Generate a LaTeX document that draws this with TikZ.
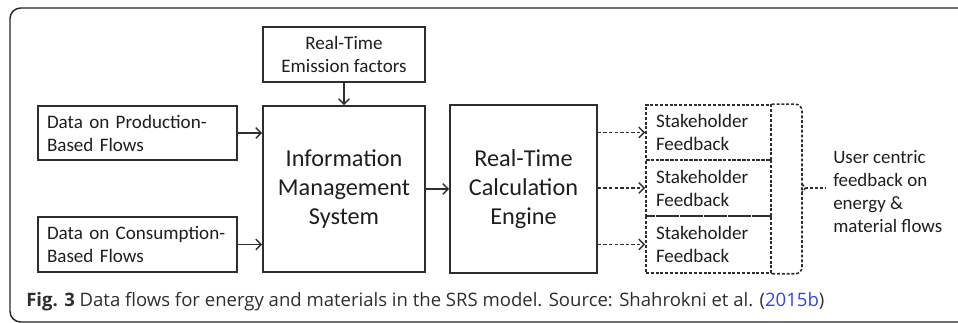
\documentclass[tikz,border=0pt]{standalone}
\usepackage{fontspec}
\setmainfont{Carlito}
\newfontfamily\capfont{Open Sans}
\usetikzlibrary{arrows.meta}
\definecolor{ln}{HTML}{2E2E2E}
\definecolor{tx}{HTML}{1E1E1E}
\definecolor{captx}{HTML}{2E2E2E}
\definecolor{linkblue}{HTML}{3344EE}
\begin{document}
\begin{tikzpicture}[x=0.75pt,y=-0.75pt,
  box/.style={draw=ln, line width=1.2pt, inner sep=0pt, text=tx},
  smalltxt/.style={font=\fontsize{14.3}{17.3}\selectfont},
  bigtxt/.style={font=\fontsize{18.2}{21.8}\selectfont},
  leftbox/.style={box, smalltxt, align=left, inner xsep=6.75pt, text width=135.75pt},
  shbox/.style={box, smalltxt, dash pattern=on 2.2pt off 1.4pt, align=left, inner xsep=7.5pt, text width=78.75pt},
  arr/.style={draw=ln, line width=1.1pt, -{Straight Barb[length=4pt,width=8pt,line width=1.1pt]}},
  darr/.style={arr, dash pattern=on 2.6pt off 1.6pt},
  dsh/.style={draw=ln, line width=1.2pt, dash pattern=on 2.2pt off 1.4pt}]
\useasboundingbox (0,0) rectangle (958,323);
\begin{scope}
\clip (0,0) rectangle (958,323);
\draw[draw=black!85, line width=1.1pt, rounded corners=8pt] (10,8) rectangle (990,322);
\end{scope}

\node[box, smalltxt, align=center, minimum width=121.5pt, minimum height=41.25pt] (emis) at (344,54.5) {Real-Time\\Emission factors};
\node[leftbox, minimum height=40.5pt] (prod) at (137.5,133) {Data on Production-\\Based Flows};
\node[leftbox, minimum height=41.25pt] (cons) at (137.5,244.5) {Data on Consumption-\\Based Flows};
\node[box, bigtxt, align=center, minimum width=121.5pt, minimum height=124.5pt] (ims) at (344,189) {Information\\Management\\System};
\node[box, bigtxt, align=center, minimum width=110.25pt, minimum height=126pt] (rtce) at (523.5,189) {Real-Time\\Calculation\\Engine};
\node[shbox, minimum height=41.25pt] (sh1) at (708.5,132.5) {Stakeholder\\Feedback};
\node[shbox, minimum height=42pt] (sh2) at (708.5,188) {Stakeholder\\Feedback};
\node[shbox, minimum height=42.75pt] (sh3) at (708.5,244.5) {Stakeholder\\Feedback};
\node[text=tx, align=left, anchor=west, inner sep=0pt, font=\fontsize{14.2}{17.3}\selectfont] (user) at (833,191.5) {User centric\\feedback on\\energy \&\\material flows};

\draw[arr] (emis.south) -- (ims.north);
\draw[arr] (prod.east) -- (prod.east -| ims.west);
\draw[arr] (cons.east) -- (cons.east -| ims.west);
\draw[arr] (ims.east |- rtce.west) -- (rtce.west);
\draw[darr] (sh1.west -| rtce.east) -- (sh1.west);
\draw[darr] (sh2.west -| rtce.east) -- (sh2.west);
\draw[darr] (sh3.west -| rtce.east) -- (sh3.west);

\coordinate (br) at (802,188);
\coordinate (bt) at (802,184);
\coordinate (bb) at (802,192);
\coordinate (bp) at (805.5,188);
\coordinate (be) at (825,188);
\draw[dsh, rounded corners=5pt] (sh1.north east) -| (br) |- (sh3.south east);
\draw[dsh] (bt) -- (bp) -- (bb);
\draw[dsh] (bp) -- (be);

\node[anchor=base west, inner sep=0pt, text=captx, font=\capfont\fontsize{13.9}{16}\selectfont] (cap) at (26,307)
  {\textbf{Fig. 3} Data flows for energy and materials in the SRS model. Source: Shahrokni et al. (\textcolor{linkblue}{2015b})};
\end{tikzpicture}
\end{document}
